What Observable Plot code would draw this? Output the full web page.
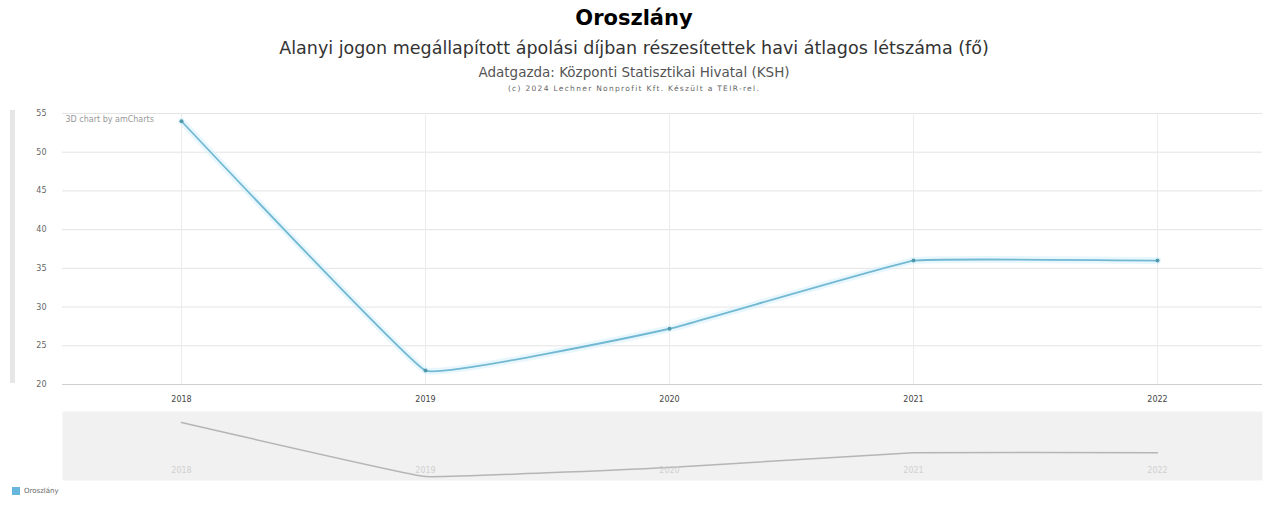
<!DOCTYPE html>
<html>
<head>
<meta charset="utf-8">
<script src="https://cdn.jsdelivr.net/npm/d3@7"></script>
<script src="https://cdn.jsdelivr.net/npm/@observablehq/plot@0.6"></script>
<style>
  body { margin: 0; background: #fff; font-family: "DejaVu Sans", Verdana, sans-serif; }
  #wrap { position: relative; width: 1268px; height: 506px; overflow: hidden; }
  .t { position: absolute; left: 0; width: 1268px; text-align: center; white-space: nowrap; }
  #title { top: 5px; font-size: 21px; line-height: 26px; font-weight: bold; color: #000; }
  #sub { top: 36px; font-size: 17.5px; line-height: 24px; color: #333; }
  #src { top: 63px; font-size: 13.5px; line-height: 18px; color: #555; }
  #copy { top: 84px; font-size: 7.5px; line-height: 10px; color: #666; letter-spacing: 1.3px; }
  #main { position: absolute; left: 0; top: 100px; }
  #nav { position: absolute; left: 0; top: 410px; }
  #vscroll { position: absolute; left: 10px; top: 110px; width: 5px; height: 273px; background: #e6e6e6; }
  #legend { position: absolute; left: 12px; top: 487px; font-size: 7px; color: #666; display: flex; align-items: center; gap: 4px; }
  #legend .sw { width: 8px; height: 8px; background: #67b7dc; }
</style>
</head>
<body>
<div id="wrap">
  <div class="t" id="title"></div>
  <div class="t" id="sub"></div>
  <div class="t" id="src"></div>
  <div class="t" id="copy"></div>
  <div id="vscroll"></div>
  <div id="main"></div>
  <div id="nav"></div>
  <div id="legend"><div class="sw"></div><span id="legtext"></span></div>
</div>
<script>
const titleText = "Oroszlány";
const subtitleText = "Alanyi jogon megállapított ápolási díjban részesítettek havi átlagos létszáma (fő)";
const sourceText = "Adatgazda: Központi Statisztikai Hivatal (KSH)";
const copyText = "(c) 2024 Lechner Nonprofit Kft. Készült a TEIR-rel.";
const creditText = "3D chart by amCharts";
const seriesName = "Oroszlány";
const years = ["2018", "2019", "2020", "2021", "2022"];
const values = [54, 21.8, 27.2, 36, 36];
const yTicks = [20, 25, 30, 35, 40, 45, 50, 55];

document.getElementById("title").textContent = titleText;
document.getElementById("sub").textContent = subtitleText;
document.getElementById("src").textContent = sourceText;
document.getElementById("copy").textContent = copyText;
document.getElementById("legtext").textContent = seriesName;

const data = years.map((y, i) => ({year: y, value: values[i]}));
const curve = "cardinal";
const tension = 0.8;

const main = Plot.plot({
  width: 1268,
  height: 310,
  marginLeft: 62,
  marginRight: 6,
  marginTop: 13,
  marginBottom: 26,
  style: {fontFamily: "DejaVu Sans, Verdana, sans-serif", fontSize: "8px", color: "#555", background: "transparent"},
  x: {type: "point", domain: years, range: [181, 1157], padding: 0, label: null},
  y: {domain: [20, 55], label: null},
  marks: [
    Plot.gridY(yTicks, {stroke: "#e4e4e4", strokeOpacity: 1}),
    Plot.gridX(years, {stroke: "#ececec", strokeOpacity: 1}),
    Plot.ruleY([20], {stroke: "#cfcfcf", strokeWidth: 1}),
    Plot.axisY(yTicks, {tickSize: 0, tickPadding: 16, fill: "#666"}),
    Plot.axisX(years, {tickSize: 0, tickPadding: 12, fill: "#444", fontSize: 8}),
    Plot.text([creditText], {frameAnchor: "top-left", dx: 3, dy: 3, fontSize: 8, fill: "#999"}),
    Plot.line(data, {x: "year", y: "value", stroke: "#d8f1fb", strokeWidth: 7, strokeOpacity: 0.6, curve, tension}),
    Plot.line(data, {x: "year", y: "value", stroke: "#72b8d2", strokeWidth: 1.8, curve, tension}),
    Plot.dot(data, {x: "year", y: "value", r: 2, fill: "#4f98ad"})
  ]
});
document.getElementById("main").appendChild(main);

const nav = Plot.plot({
  width: 1268,
  height: 72,
  marginLeft: 62,
  marginRight: 6,
  marginTop: 1,
  marginBottom: 2,
  style: {fontFamily: "DejaVu Sans, Verdana, sans-serif", background: "transparent"},
  x: {type: "point", domain: years, range: [181, 1157], padding: 0, axis: null},
  y: {range: [66, 12], axis: null},
  marks: [
    Plot.frame({fill: "#f1f1f1", stroke: null}),
    Plot.line(data, {x: "year", y: "value", stroke: "#b5b5b5", strokeWidth: 1.5, curve, tension}),
    Plot.text(years, {x: d => d, frameAnchor: "bottom", dy: -8, fontSize: 8, fill: "#d0d0d0"})
  ]
});
document.getElementById("nav").appendChild(nav);
</script>
</body>
</html>
